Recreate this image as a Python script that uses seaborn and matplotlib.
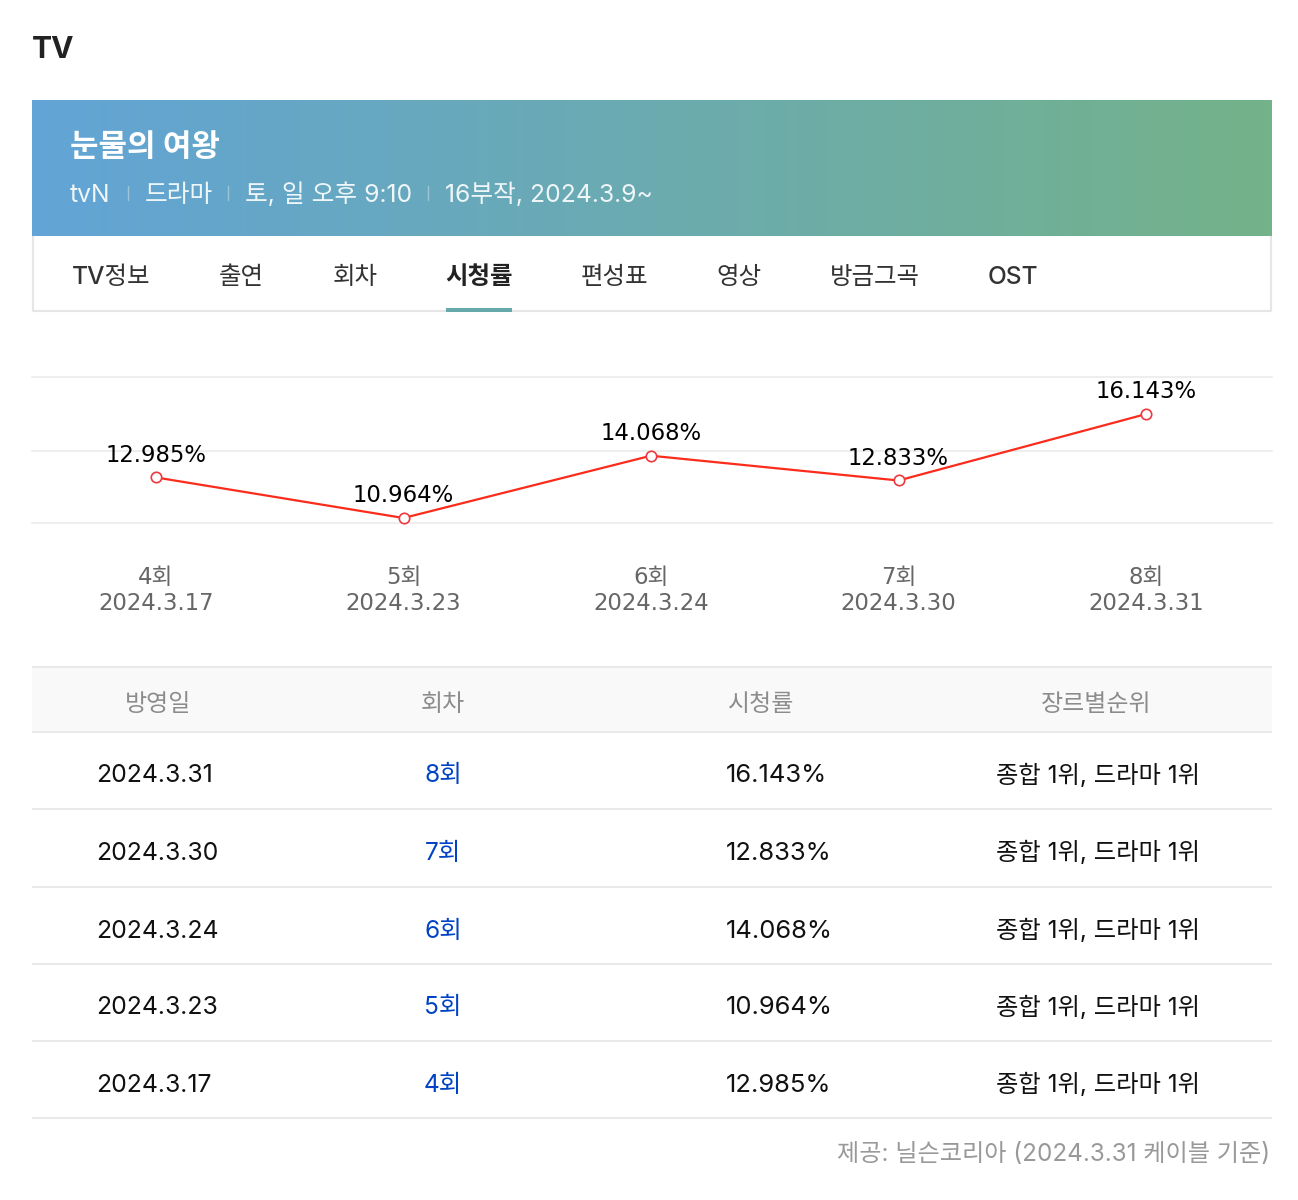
import matplotlib
matplotlib.use("Agg")
import matplotlib.pyplot as plt
import numpy as np
import pandas as pd
import seaborn as sns
from matplotlib.colors import LinearSegmentedColormap

episodes = ["4회", "5회", "6회", "7회", "8회"]
air_dates = ["2024.3.17", "2024.3.23", "2024.3.24", "2024.3.30", "2024.3.31"]
ratings = [12.985, 10.964, 14.068, 12.833, 16.143]
grid_values = [10.715, 14.3, 17.99]

tab_labels = ["TV정보", "출연", "회차", "시청률", "편성표", "영상", "방금그곡", "OST"]
tab_lefts = [72, 219, 333, 445, 581, 716, 830, 988]
table_headers = ["방영일", "회차", "시청률", "장르별순위"]
rank_label = "종합 1위, 드라마 1위"

W, H = 1298, 1200
INTER_KR = ["Inter", "Noto Sans CJK KR"]
CHART_KR = ["DejaVu Sans", "Noto Sans CJK KR"]

sns.set_theme(style="white")
plt.rcParams["font.family"] = INTER_KR

fig = plt.figure(figsize=(W / 100, H / 100), dpi=100, facecolor="white")


def px(size):
    return size * 0.72


# page furniture, drawn in pixel coordinates
page = fig.add_axes([0, 0, 1, 1])
page.set_xlim(0, W)
page.set_ylim(H, 0)
page.axis("off")

page.text(32, 50, "TV", fontsize=px(30), fontweight="bold", color="#222222", va="center")

banner = LinearSegmentedColormap.from_list("banner", ["#62a4d6", "#74b28a"])
page.imshow(np.linspace(0, 1, 256).reshape(1, -1), cmap=banner, aspect="auto",
            extent=(32, 1272, 236, 100), zorder=1, interpolation="bilinear")
page.set_xlim(0, W)
page.set_ylim(H, 0)

page.text(70, 148, "눈물의 여왕", fontsize=px(31), fontweight="bold", color="white",
          va="center", zorder=2)
for left, label in [(70, "tvN"), (145, "드라마"), (245, "토, 일 오후 9:10"), (445, "16부작, 2024.3.9~")]:
    page.text(left, 195, label, fontsize=px(24.7), color="#eef6f8", va="center", zorder=2)
for sep in [128, 228, 428]:
    page.plot([sep, sep], [186, 200], color="#9cc6d8", lw=1, zorder=2)

# tab frame
page.plot([33, 33, 1271, 1271], [236, 311, 311, 236], color="#e6e6e6", lw=1.5, zorder=0,
          solid_capstyle="butt")
for left, label in zip(tab_lefts, tab_labels):
    active = label == "시청률"
    page.text(left, 278, label, fontsize=px(24.5), color="#222222" if active else "#333333",
              fontweight="bold" if active else "medium", va="center")
page.fill_between([446, 512], 308, 312, color="#66a9ab", lw=0, zorder=2)

# table
page.fill_between([32, 1272], 667, 732, color="#f9f9f9", lw=0, zorder=0)
for line_y in [667, 732, 809, 887, 964, 1041, 1118]:
    page.plot([32, 1272], [line_y, line_y], color="#e9e9e9", lw=1.5, zorder=1,
              solid_capstyle="butt")
for center, label in zip([158, 443, 761, 1096], table_headers):
    page.text(center, 705, label, fontsize=px(24), color="#8c8c8c", ha="center", va="center")
row_ys = [776, 853, 931, 1008, 1085]
for row_y, date, episode, rating in zip(row_ys, air_dates[::-1], episodes[::-1], ratings[::-1]):
    page.text(96, row_y, date, fontsize=px(24.8), color="#111111", va="center")
    page.text(443, row_y, episode, fontsize=px(24.5), color="#0043c4", ha="center", va="center")
    page.text(726, row_y, f"{rating:.3f}%", fontsize=px(25.6), color="#111111", va="center")
    page.text(1098, row_y, rank_label, fontsize=px(24.3), color="#111111", ha="center", va="center")

page.text(1270, 1154, "제공: 닐슨코리아 (2024.3.31 케이블 기준)", fontsize=px(24.2), color="#999999",
          ha="right", va="center")

# rating line chart
chart = fig.add_axes([32 / W, 1 - 523 / H, 1240 / W, 146 / H])
chart.patch.set_alpha(0)
frame = pd.DataFrame({"label": [f"{e}\n{d}" for e, d in zip(episodes, air_dates)], "rating": ratings})
sns.lineplot(data=frame, x="label", y="rating", ax=chart, color="#fb2c1c", lw=1.6, marker="o",
             markersize=7.5, markerfacecolor="white", markeredgecolor="#f0383f",
             markeredgewidth=1.2, sort=False, clip_on=False, zorder=3)
chart.set_xlim(-0.501, 4.509)
chart.set_ylim(grid_values[0], grid_values[-1])
chart.set_yticks(grid_values)
chart.set_yticklabels([])
chart.grid(axis="y", color="#eeeeee", lw=1.5, clip_on=False)
chart.grid(axis="x", visible=False)
chart.tick_params(axis="both", length=0)
chart.tick_params(axis="x", pad=31, labelcolor="#666666", labelsize=px(22.7))
for tick in chart.get_xticklabels():
    tick.set_family(CHART_KR)
    tick.set_linespacing(1.15)
chart.set_xlabel("")
chart.set_ylabel("")
sns.despine(ax=chart, left=True, bottom=True)
for i, value in enumerate(ratings):
    chart.annotate(f"{value:.3f}%", (i, value), xytext=(0, 16), textcoords="offset points",
                   ha="center", va="center", fontsize=px(22.7), color="black", family=CHART_KR)

fig.savefig("out.png", dpi=100, facecolor="white")
